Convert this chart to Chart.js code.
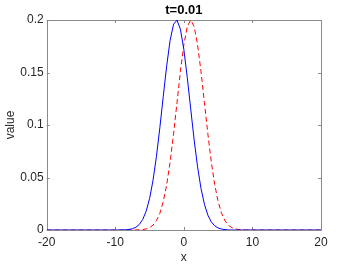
<!DOCTYPE html>
<html>
<head>
<meta charset="utf-8">
<script src="https://cdn.jsdelivr.net/npm/chart.js@4.4.1/dist/chart.umd.min.js"></script>
<style>
  body { margin: 0; background: #fff; }
  canvas { display: block; }
</style>
</head>
<body>
<canvas id="myChart" width="354" height="266"></canvas>
<script>
// sample positions along x
var xs = [-20, -10, -9.5, -9, -8.5, -8, -7.5, -7, -6.5, -6, -5.5, -5, -4.5, -4, -3.5, -3, -2.5, -2, -1.5, -1, -0.5,
          0, 0.5, 1, 1.5, 2, 2.5, 3, 3.5, 4, 4.5, 5, 5.5, 6, 6.5, 7, 7.5, 8, 8.5, 9, 9.5, 10, 20];

// solid blue curve
var blueVals = [0, 0, 0, 0.0001, 0.0002, 0.0005, 0.0012, 0.0026, 0.0052, 0.0100, 0.0178, 0.0299, 0.0471, 0.0699, 0.0974,
                0.1274, 0.1565, 0.1807, 0.1960, 0.1998, 0.1912, 0.1719, 0.1452, 0.1153, 0.0859, 0.0602, 0.0396, 0.0245,
                0.0142, 0.0077, 0.0040, 0.0019, 0.0009, 0.0004, 0.0001, 0, 0, 0, 0, 0, 0, 0, 0];

// dashed red curve
var redVals = [0, 0, 0, 0, 0, 0, 0, 0.0001, 0.0002, 0.0004, 0.0010, 0.0022, 0.0046, 0.0088, 0.0159, 0.0271, 0.0433,
               0.0649, 0.0916, 0.1213, 0.1510, 0.1765, 0.1938, 0.2000, 0.1938, 0.1765, 0.1510, 0.1213, 0.0916, 0.0649,
               0.0433, 0.0271, 0.0159, 0.0088, 0.0046, 0.0022, 0.0010, 0.0004, 0.0002, 0.0001, 0, 0, 0];

var xTicks = [-20, -10, 0, 10, 20];
var xTickLabels = ['-20', '-10', '0', '10', '20'];
var yTicks = [0, 0.05, 0.1, 0.15, 0.2];
var yTickLabels = ['0', '0.05', '0.1', '0.15', '0.2'];

var FONT = '"Liberation Sans", Arial, Helvetica, sans-serif';

function toPoints(vals) {
  return xs.map(function(x, i) { return { x: x, y: vals[i] }; });
}

// matlab-like box with inward ticks
var boxPlugin = {
  id: 'box',
  beforeDatasetsDraw: function(chart) {
    var ctx = chart.ctx, a = chart.chartArea;
    var sx = chart.scales.x, sy = chart.scales.y;
    var len = 3;
    ctx.save();
    ctx.strokeStyle = '#8a8a8a';
    ctx.lineWidth = 1;
    ctx.beginPath();
    ctx.rect(Math.round(a.left) + 0.5, Math.round(a.top) + 0.5,
             Math.round(a.right) - Math.round(a.left), Math.round(a.bottom) - Math.round(a.top));
    xTicks.forEach(function(v) {
      var px = Math.round(sx.getPixelForValue(v)) + 0.5;
      ctx.moveTo(px, a.bottom); ctx.lineTo(px, a.bottom - len);
      ctx.moveTo(px, a.top); ctx.lineTo(px, a.top + len);
    });
    yTicks.forEach(function(v) {
      var py = Math.round(sy.getPixelForValue(v)) + 0.5;
      ctx.moveTo(a.left, py); ctx.lineTo(a.left + len, py);
      ctx.moveTo(a.right, py); ctx.lineTo(a.right - len, py);
    });
    ctx.stroke();
    ctx.restore();
  }
};

var ctx = document.getElementById('myChart').getContext('2d');
var myChart = new Chart(ctx, {
  type: 'line',
  data: {
    datasets: [{
      data: toPoints(blueVals),
      borderColor: '#0000ff',
      borderWidth: 1,
      pointRadius: 0,
      tension: 0
    }, {
      data: toPoints(redVals),
      borderColor: '#ff0000',
      borderWidth: 1,
      borderDash: [5, 3],
      pointRadius: 0,
      tension: 0
    }]
  },
  options: {
    responsive: false,
    animation: false,
    layout: { padding: { left: 0, right: 33, top: 0, bottom: 0 } },
    plugins: {
      legend: { display: false },
      tooltip: { enabled: false },
      title: {
        display: true,
        text: 't=0.01',
        fullSize: false,
        color: '#000',
        font: { family: FONT, size: 13, weight: 'bold' },
        padding: { top: 3, bottom: 1.4 }
      }
    },
    scales: {
      x: {
        type: 'linear',
        min: -20, max: 20,
        afterFit: function(s) { s.height = 36; },
        afterBuildTicks: function(s) { s.ticks = xTicks.map(function(v) { return { value: v }; }); },
        ticks: {
          color: '#262626',
          font: { family: FONT, size: 12 },
          padding: 5,
          maxRotation: 0,
          callback: function(v) { return xTickLabels[xTicks.indexOf(v)]; }
        },
        grid: { display: false, drawTicks: false },
        border: { display: false },
        title: { display: true, text: 'x', color: '#262626', font: { family: FONT, size: 12 }, padding: { top: 0, bottom: 1 } }
      },
      y: {
        min: 0, max: 0.2,
        afterFit: function(s) { s.width = 46.7; },
        afterBuildTicks: function(s) { s.ticks = yTicks.map(function(v) { return { value: v }; }); },
        ticks: {
          color: '#262626',
          font: { family: FONT, size: 12 },
          padding: 3,
          callback: function(v) { return yTickLabels[yTicks.indexOf(v)]; }
        },
        grid: { display: false, drawTicks: false },
        border: { display: false },
        title: { display: true, text: 'value', color: '#262626', font: { family: FONT, size: 12 }, padding: { top: 3, bottom: 0 } }
      }
    }
  },
  plugins: [boxPlugin]
});
</script>
</body>
</html>
